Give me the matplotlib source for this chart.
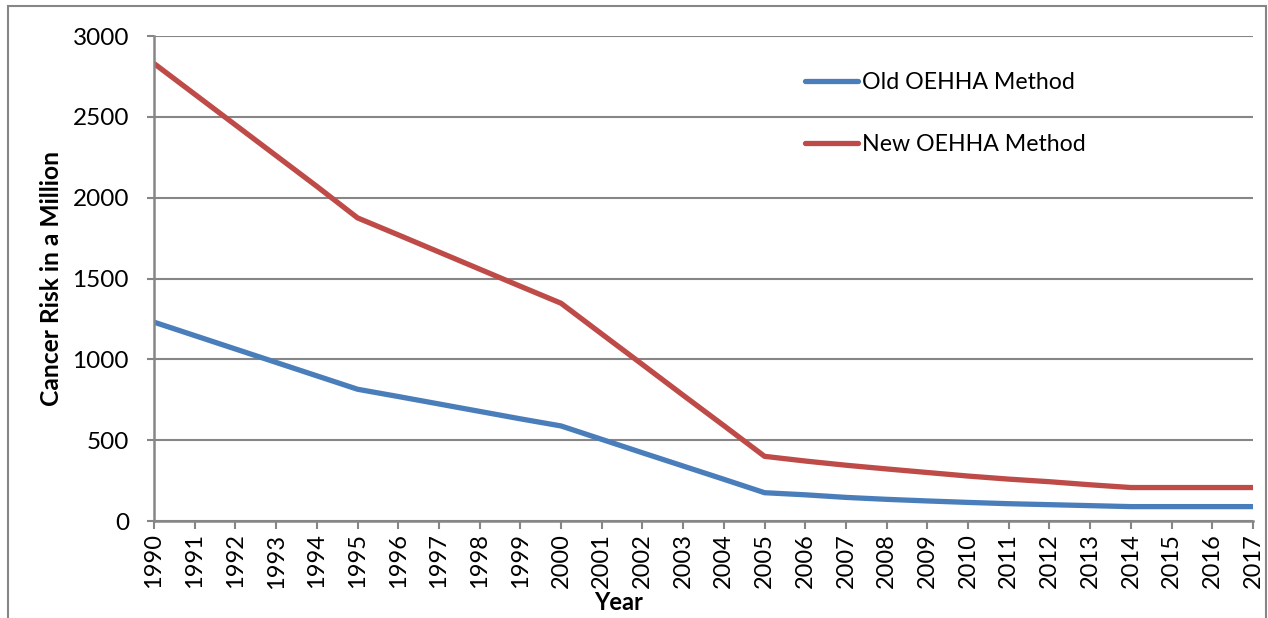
import matplotlib.pyplot as plt
from matplotlib.patches import Rectangle

# DATA

years = list(range(1990, 2018))

old_oehha = [1230, 1147, 1064, 981, 898, 815,
             770, 724, 678, 632, 588,
             505, 422, 340, 258, 175,
             162, 146, 134, 124, 115, 107, 101, 95, 89,
             89, 89, 89]

new_oehha = [2830, 2640, 2450, 2260, 2070, 1875,
             1770, 1664, 1558, 1452, 1347,
             1157, 968, 778, 590, 400,
             371, 345, 322, 300, 278, 259, 243, 224, 207,
             207, 207, 207]

labels = ["Old OEHHA Method", "New OEHHA Method"]

BLUE = "#4A7EBB"
RED = "#BE4B48"
GRID = "#868686"

plt.rcParams["font.family"] = ["Lato", "DejaVu Sans"]

fig = plt.figure(figsize=(12.68, 6.18), dpi=100)
ax = fig.add_axes([154 / 1268, 1 - 521 / 618, 1099 / 1268, 485 / 618])

ax.plot(years, old_oehha, color=BLUE, linewidth=3.8, label=labels[0],
        solid_capstyle="butt")
ax.plot(years, new_oehha, color=RED, linewidth=3.8, label=labels[1],
        solid_capstyle="butt")

ax.set_xlim(1990, 2017)
ax.set_ylim(0, 3000)
ax.set_yticks(range(0, 3001, 500))
ax.set_xticks(years)
ax.set_xticklabels([str(y) for y in years], rotation=90, fontsize=17)
ax.tick_params(axis="y", labelsize=17.5, length=5, width=1.5, color=GRID, pad=13)
ax.tick_params(axis="x", length=6, width=1.5, color=GRID, pad=3)

ax.grid(axis="y", color=GRID, linewidth=1.5)
ax.set_axisbelow(True)
for side in ["top", "right"]:
    ax.spines[side].set_visible(False)
for side in ["left", "bottom"]:
    ax.spines[side].set_color(GRID)
    ax.spines[side].set_linewidth(1.8)

leg = ax.legend(loc="upper left", bbox_to_anchor=(0.592, 0.926), frameon=False,
                fontsize=16.7, handlelength=2.3, handletextpad=0.18,
                labelspacing=1.78, borderpad=0, borderaxespad=0)
for line in leg.get_lines():
    line.set_solid_capstyle("round")

fig.text(619 / 1268, 1 - 603 / 618, "Year", fontsize=17, fontweight="bold",
         ha="center", va="center")
fig.text(52 / 1268, 1 - 278 / 618, "Cancer Risk in a Million", fontsize=17.7,
         fontweight="bold", rotation=90, ha="center", va="center")

# outer frame
fig.patches.append(Rectangle((8 / 1268, -0.05), 1258 / 1268, 1.05 - 6 / 618,
                             transform=fig.transFigure, fill=False,
                             edgecolor=GRID, linewidth=1.5))

plt.savefig("out.png", dpi=100)
plt.close()
